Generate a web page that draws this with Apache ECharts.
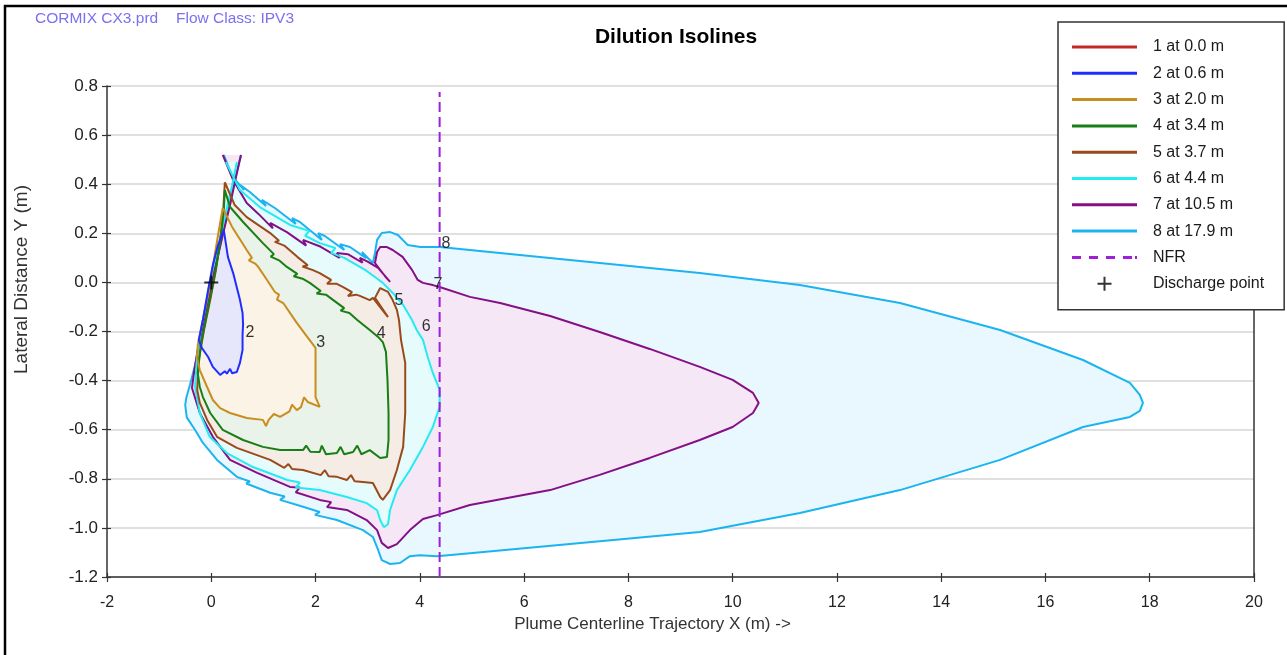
<!DOCTYPE html>
<html>
<head>
<meta charset="utf-8">
<title>Dilution Isolines</title>
<script src="https://cdn.jsdelivr.net/npm/echarts@6/dist/echarts.min.js"></script>
<style>
  html, body { margin: 0; padding: 0; background: #fff; }
  #chart { width: 1287px; height: 655px; }
</style>
</head>
<body>
<div id="chart"></div>
<script>
// Isoline outlines, [x (m), y (m)] pairs
const iso1 = [[0, 0], [0, 0]];
const iso2 = [[0.24,0.213],[0.32,0.103],[0.42,0.038],[0.55,-0.071],[0.60,-0.124],[0.61,-0.170],[0.60,-0.214],[0.60,-0.275],[0.55,-0.328],[0.49,-0.365],[0.40,-0.370],[0.36,-0.352],[0.30,-0.372],[0.26,-0.362],[0.17,-0.377],[0.03,-0.344],[-0.06,-0.304],[-0.18,-0.267],[-0.24,-0.235],[-0.16,-0.153],[-0.06,-0.031],[0.03,0.071],[0.13,0.152],[0.24,0.213]];
const iso3 = [[0.22,0.303],[0.40,0.226],[0.68,0.132],[0.78,0.100],[0.72,0.090],[0.85,0.075],[0.90,0.063],[1.07,0.010],[1.22,-0.039],[1.30,-0.050],[1.26,-0.070],[1.38,-0.084],[1.64,-0.165],[1.84,-0.222],[2.00,-0.267],[2.00,-0.316],[2.00,-0.398],[2.00,-0.467],[2.08,-0.507],[1.85,-0.487],[1.78,-0.468],[1.72,-0.508],[1.64,-0.520],[1.55,-0.498],[1.50,-0.525],[1.32,-0.548],[1.20,-0.536],[1.10,-0.560],[1.05,-0.585],[0.99,-0.560],[0.68,-0.552],[0.36,-0.532],[0.17,-0.512],[0.03,-0.479],[-0.08,-0.426],[-0.22,-0.357],[-0.27,-0.308],[-0.26,-0.255],[-0.16,-0.153],[-0.04,-0.031],[0.05,0.091],[0.13,0.193],[0.22,0.303]];
const iso4 = [[0.26,0.376],[0.36,0.307],[0.61,0.246],[0.99,0.160],[1.20,0.115],[1.14,0.105],[1.30,0.090],[1.45,0.063],[1.65,0.035],[1.58,0.025],[1.75,0.015],[1.89,-0.002],[2.10,-0.035],[2.02,-0.045],[2.20,-0.050],[2.34,-0.072],[2.55,-0.105],[2.48,-0.115],[2.65,-0.125],[2.80,-0.153],[3.04,-0.194],[3.20,-0.222],[3.29,-0.243],[3.35,-0.283],[3.38,-0.397],[3.40,-0.532],[3.40,-0.642],[3.37,-0.711],[3.24,-0.715],[3.04,-0.683],[2.88,-0.700],[2.80,-0.665],[2.72,-0.691],[2.55,-0.700],[2.48,-0.670],[2.41,-0.695],[2.20,-0.700],[2.12,-0.665],[2.08,-0.691],[1.90,-0.690],[1.82,-0.665],[1.76,-0.683],[1.32,-0.683],[0.99,-0.670],[0.61,-0.642],[0.22,-0.601],[-0.02,-0.532],[-0.16,-0.467],[-0.22,-0.426],[-0.26,-0.369],[-0.20,-0.255],[-0.10,-0.145],[0.01,-0.031],[0.11,0.083],[0.19,0.193],[0.24,0.295],[0.26,0.376]];
const iso5 = [[0.26,0.408],[0.45,0.315],[0.68,0.266],[1.13,0.201],[1.30,0.170],[1.22,0.165],[1.40,0.150],[1.65,0.104],[1.85,0.070],[1.75,0.065],[1.95,0.050],[2.08,0.038],[2.30,0.010],[2.22,-0.005],[2.40,-0.005],[2.53,-0.019],[2.70,-0.040],[2.62,-0.055],[2.78,-0.050],[2.85,-0.055],[3.04,-0.072],[3.10,-0.063],[3.39,-0.141],[3.14,-0.063],[3.24,-0.023],[3.39,-0.039],[3.48,-0.072],[3.56,-0.112],[3.60,-0.153],[3.64,-0.235],[3.72,-0.328],[3.72,-0.532],[3.68,-0.670],[3.56,-0.764],[3.43,-0.846],[3.29,-0.886],[3.24,-0.874],[3.10,-0.817],[2.91,-0.813],[2.75,-0.810],[2.68,-0.785],[2.60,-0.805],[2.41,-0.792],[2.25,-0.790],[2.18,-0.765],[2.10,-0.785],[1.76,-0.764],[1.55,-0.760],[1.48,-0.740],[1.40,-0.755],[1.13,-0.723],[0.49,-0.674],[0.11,-0.629],[-0.08,-0.560],[-0.22,-0.491],[-0.27,-0.438],[-0.24,-0.316],[-0.14,-0.194],[-0.02,-0.071],[0.09,0.051],[0.17,0.173],[0.23,0.295],[0.26,0.408]];
const iso6 = [[0.49,0.490],[0.40,0.396],[0.28,0.286],[0.15,0.164],[0.01,0.042],[-0.10,-0.080],[-0.20,-0.194],[-0.27,-0.295],[-0.31,-0.426],[-0.22,-0.532],[-0.03,-0.629],[0.30,-0.695],[0.80,-0.752],[1.46,-0.805],[1.70,-0.815],[1.62,-0.835],[2.08,-0.846],[2.60,-0.874],[2.98,-0.899],[3.18,-0.928],[3.24,-0.968],[3.31,-0.997],[3.39,-0.985],[3.43,-0.927],[3.56,-0.846],[3.81,-0.764],[4.06,-0.670],[4.25,-0.589],[4.38,-0.507],[4.38,-0.438],[4.25,-0.369],[4.15,-0.303],[4.06,-0.234],[3.94,-0.194],[3.85,-0.153],[3.68,-0.092],[3.48,-0.043],[3.29,-0.002],[3.14,0.022],[2.95,0.051],[2.56,0.099],[2.30,0.120],[2.38,0.140],[2.08,0.160],[1.80,0.190],[1.88,0.210],[1.51,0.234],[0.93,0.307],[0.55,0.376],[0.28,0.490]];
const iso7 = [[0.57,0.519],[0.47,0.425],[0.36,0.315],[0.22,0.193],[0.09,0.071],[-0.04,-0.051],[-0.16,-0.173],[-0.26,-0.275],[-0.33,-0.365],[-0.37,-0.430],[-0.22,-0.532],[0.03,-0.629],[0.36,-0.723],[0.88,-0.776],[1.51,-0.833],[1.70,-0.835],[1.62,-0.855],[2.08,-0.886],[2.30,-0.895],[2.22,-0.915],[2.60,-0.927],[2.98,-0.968],[3.18,-1.009],[3.27,-1.061],[3.39,-1.082],[3.56,-1.066],[3.81,-1.009],[4.06,-0.964],[4.33,-0.948],[4.96,-0.907],[6.50,-0.846],[7.45,-0.784],[8.41,-0.715],[9.37,-0.642],[10.00,-0.589],[10.39,-0.532],[10.50,-0.491],[10.39,-0.450],[10.00,-0.397],[9.37,-0.344],[8.41,-0.271],[7.45,-0.202],[6.50,-0.137],[5.54,-0.084],[4.96,-0.059],[4.38,-0.019],[4.25,-0.011],[4.06,-0.002],[3.96,0.010],[3.85,0.051],[3.67,0.104],[3.48,0.132],[3.37,0.144],[3.24,0.144],[3.18,0.124],[3.14,0.079],[3.33,0.026],[3.43,0.002],[3.20,0.059],[3.00,0.085],[2.85,0.100],[2.90,0.080],[2.62,0.115],[2.41,0.120],[2.46,0.100],[2.10,0.145],[1.76,0.173],[1.82,0.150],[1.45,0.205],[1.13,0.242],[1.18,0.220],[0.90,0.280],[0.68,0.323],[0.42,0.417],[0.22,0.519]];
const iso8 = [[0.57,0.519],[0.45,0.417],[0.32,0.295],[0.17,0.152],[0.03,0.030],[-0.08,-0.092],[-0.20,-0.214],[-0.31,-0.336],[-0.41,-0.418],[-0.48,-0.471],[-0.50,-0.500],[-0.47,-0.550],[-0.31,-0.601],[-0.16,-0.654],[0.11,-0.723],[0.49,-0.792],[0.74,-0.811],[0.67,-0.819],[1.13,-0.857],[1.41,-0.872],[1.32,-0.886],[1.76,-0.914],[2.08,-0.935],[1.99,-0.947],[2.41,-0.968],[2.91,-1.009],[3.10,-1.037],[3.20,-1.090],[3.27,-1.131],[3.43,-1.147],[3.62,-1.143],[3.81,-1.115],[4.00,-1.111],[4.33,-1.115],[4.96,-1.103],[9.37,-1.017],[11.29,-0.939],[13.21,-0.846],[15.13,-0.723],[16.72,-0.589],[17.62,-0.548],[17.81,-0.523],[17.87,-0.491],[17.81,-0.458],[17.62,-0.409],[16.72,-0.316],[15.13,-0.194],[13.21,-0.084],[11.29,-0.011],[9.37,0.038],[4.96,0.132],[4.39,0.144],[4.01,0.144],[3.77,0.152],[3.58,0.193],[3.43,0.205],[3.27,0.201],[3.18,0.173],[3.14,0.120],[3.10,0.079],[2.89,0.124],[2.97,0.099],[2.66,0.144],[2.47,0.156],[2.55,0.132],[2.18,0.189],[2.05,0.201],[2.12,0.173],[1.70,0.246],[1.55,0.262],[1.62,0.238],[1.22,0.303],[0.97,0.336],[1.05,0.311],[0.74,0.368],[0.55,0.397],[0.63,0.376],[0.40,0.433],[0.24,0.519]];

// Near-field region boundary: [x, y from, y to], and the discharge location
const nfrLine = [[4.38, -1.2, 0.776]];
const dischargePoint = [[0, 0]];

// Isoline number tags placed beside each contour: [x, y, tag]
const isoTags = [[0.74,-0.206,'2'],[2.10,-0.247,'3'],[3.26,-0.210,'4'],[3.60,-0.076,'5'],[4.12,-0.178,'6'],[4.35,-0.007,'7'],[4.50,0.160,'8']];

const isoNames = ['1 at 0.0 m','2 at 0.6 m','3 at 2.0 m','4 at 3.4 m','5 at 3.7 m','6 at 4.4 m','7 at 10.5 m','8 at 17.9 m'];
const xTicks = { min: -2, max: 20, step: 2 };
const yTicks = { min: -1.2, max: 0.8, step: 0.2 };

const isolines = [iso1, iso2, iso3, iso4, iso5, iso6, iso7, iso8];
const lineColors = ['#c62828','#1f2dff','#c98d1e','#167f16','#9a4a1a','#22ecf2','#850f85','#1cb4f0'];
const fillColors = [null,'#e7e7fb','#faf3e6','#e9f3e9','#f5ece5','#e6fcfc','#f6e7f6','#e9f8fe'];
const nfrColor = '#9f1fd8';

const FONT = "'Liberation Sans', Arial, sans-serif";
const chart = echarts.init(document.getElementById('chart'));

const series = [];
// shaded regions, outermost first so inner regions sit on top
for (let i = 7; i >= 1; i--) {
  const pts = isolines[i];
  series.push({
    type: 'custom',
    silent: true,
    data: [pts[0]],
    encode: { x: 0, y: 1 },
    renderItem: (params, api) => ({
      type: 'polygon',
      shape: { points: pts.map(p => api.coord(p)) },
      style: { fill: fillColors[i], stroke: null }
    })
  });
}
// contour outlines
for (let i = 7; i >= 0; i--) {
  series.push({
    name: isoNames[i],
    type: 'line',
    data: isolines[i],
    symbol: 'none',
    color: lineColors[i],
    lineStyle: { width: 2, color: lineColors[i] },
    silent: true,
    z: 3
  });
}
// dashed near-field boundary
series.push({
  name: 'NFR',
  type: 'custom',
  data: nfrLine,
  encode: { x: 0, y: [1, 2] },
  itemStyle: { color: nfrColor },
  silent: true,
  z: 4,
  renderItem: (params, api) => {
    const a = api.coord([api.value(0), api.value(1)]);
    const b = api.coord([api.value(0), api.value(2)]);
    return {
      type: 'line',
      shape: { x1: a[0], y1: a[1], x2: b[0], y2: b[1] },
      style: { stroke: nfrColor, lineWidth: 2, lineDash: [10, 5], fill: null }
    };
  }
});
series.push({
  name: 'Discharge point',
  type: 'scatter',
  data: dischargePoint,
  symbol: 'path://M6,0h2v14h-2zM0,6h14v2h-14z',
  symbolSize: 14,
  color: '#000',
  z: 5
});
series.push({
  type: 'scatter',
  data: isoTags,
  symbol: 'circle',
  symbolSize: 1,
  itemStyle: { color: 'rgba(0,0,0,0)' },
  silent: true,
  label: {
    show: true, position: 'inside',
    formatter: p => p.value[2],
    fontFamily: FONT, fontSize: 16, color: '#000'
  },
  z: 6
});

const axisColor = '#333';
// legend swatches: a flat bar for the contours, a row of dashes for the NFR
const flatBar = 'path://M0,0h65v3h-65z';
const dashBar = 'path://M0,0h9v3h-9zM17,0h9v3h-9zM34,0h9v3h-9zM51,0h9v3h-9zM63,0h2v3h-2z';
const legendData = isoNames.map(n => ({ name: n, icon: flatBar }))
  .concat([
    { name: 'NFR', icon: dashBar },
    { name: 'Discharge point' }
  ]);

chart.setOption({
  backgroundColor: '#fff',
  animation: false,
  textStyle: { fontFamily: FONT },
  title: {
    text: 'Dilution Isolines',
    left: 676, top: 27, padding: 0, textAlign: 'center',
    textStyle: { fontFamily: FONT, fontSize: 21, fontWeight: 'bold', color: '#000' }
  },
  graphic: [
    { type: 'rect', silent: true, shape: { x: 5, y: 6, width: 1400, height: 800 },
      style: { fill: null, stroke: '#000', lineWidth: 2.5 } },
    { type: 'text', left: 35, top: 11, silent: true,
      style: { text: 'CORMIX CX3.prd', fontFamily: FONT, fontSize: 15.5, fill: '#7c6ff0' } },
    { type: 'text', left: 176, top: 11, silent: true,
      style: { text: 'Flow Class: IPV3', fontFamily: FONT, fontSize: 15.5, fill: '#7c6ff0' } }
  ],
  grid: { left: 107, right: 33, top: 86, bottom: 78 },
  legend: {
    orient: 'vertical', left: 1058, top: 22,
    padding: [17, 20, 18, 14],
    itemWidth: 65, itemHeight: 14, itemGap: 10.3,
    backgroundColor: '#fff', borderColor: '#333', borderWidth: 1.5,
    selectedMode: false,
    lineStyle: { width: 3 },
    textStyle: { fontFamily: FONT, fontSize: 16, color: '#1a1a1a', padding: [0, 0, 0, 11] },
    data: legendData
  },
  xAxis: [
    {
      type: 'value', min: xTicks.min, max: xTicks.max, interval: xTicks.step, position: 'bottom',
      name: 'Plume Centerline Trajectory X (m) ->', nameLocation: 'middle', nameGap: 34,
      nameTextStyle: { fontFamily: FONT, fontSize: 17, color: '#333', padding: [0, 56, 0, 0] },
      axisLine: { show: true, onZero: false, lineStyle: { color: axisColor, width: 1.5 } },
      axisTick: { show: true, length: 5, lineStyle: { color: axisColor, width: 1.2 } },
      axisLabel: { fontFamily: FONT, fontSize: 16, color: '#222', margin: 18 },
      splitLine: { show: false }
    },
    {
      type: 'value', min: xTicks.min, max: xTicks.max, interval: xTicks.step, position: 'bottom',
      axisLine: { show: false, onZero: false },
      axisTick: { show: true, inside: true, length: 4, lineStyle: { color: axisColor, width: 1.2 } },
      axisLabel: { show: false }, splitLine: { show: false }
    }
  ],
  yAxis: [
    {
      type: 'value', min: yTicks.min, max: yTicks.max, interval: yTicks.step, position: 'left',
      name: 'Lateral Distance Y (m)', nameLocation: 'middle', nameGap: 76,
      nameTextStyle: { fontFamily: FONT, fontSize: 19, color: '#333', padding: [0, 0, 0, 104] },
      axisLine: { show: true, onZero: false, lineStyle: { color: axisColor, width: 1.5 } },
      axisTick: { show: true, length: 5, lineStyle: { color: axisColor, width: 1.2 } },
      axisLabel: { fontFamily: FONT, fontSize: 17, color: '#222', margin: 9, formatter: v => v.toFixed(1) },
      splitLine: { show: true, lineStyle: { color: '#d6d6d6', width: 1.5 } }
    },
    {
      type: 'value', min: yTicks.min, max: yTicks.max, interval: yTicks.step, position: 'left',
      axisLine: { show: false, onZero: false },
      axisTick: { show: true, inside: true, length: 4, lineStyle: { color: axisColor, width: 1.2 } },
      axisLabel: { show: false }, splitLine: { show: false }
    },
    {
      type: 'value', min: yTicks.min, max: yTicks.max, interval: yTicks.step, position: 'right',
      axisLine: { show: true, onZero: false, lineStyle: { color: axisColor, width: 1.5 } },
      axisTick: { show: false }, axisLabel: { show: false }, splitLine: { show: false }
    }
  ],
  series: series
});
</script>
</body>
</html>
